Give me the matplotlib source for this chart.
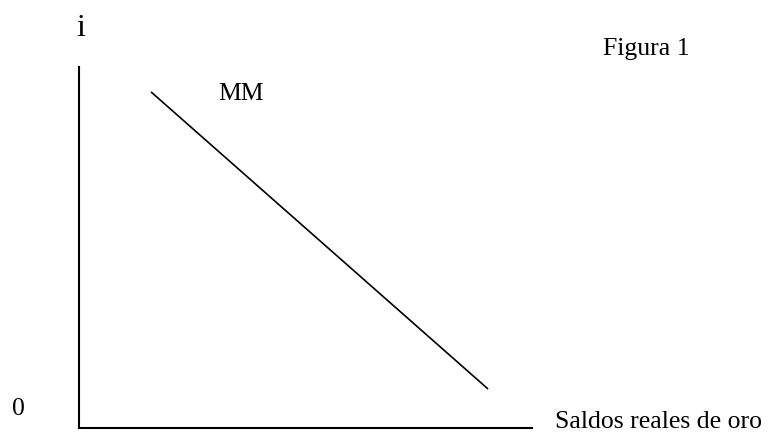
import matplotlib
matplotlib.use("Agg")
import matplotlib.pyplot as plt

# curva MM (unidades arbitrarias, ejes 0..10)
mm_x = [1.59, 9.03]
mm_y = [9.31, 1.08]

x_label = "Saldos reales de oro"
y_label = "i"
curve_label = "MM"
title = "Figura 1"
origin_label = "0"

W, H = 772, 438
plt.rcParams['font.family'] = ['Liberation Serif', 'DejaVu Serif']

fig = plt.figure(figsize=(W / 100, H / 100), dpi=100)
ax = fig.add_axes([79 / W, 1 - 428 / H, (532 - 79) / W, (428 - 67) / H])
ax.plot(mm_x, mm_y, color='black', lw=1.2, solid_capstyle='butt')
ax.set_xlim(0, 10)
ax.set_ylim(0, 10)
for s in ['top', 'right']:
    ax.spines[s].set_visible(False)
for s in ['left', 'bottom']:
    ax.spines[s].set_linewidth(1.5)
ax.set_xticks([])
ax.set_yticks([])

# textos en pixeles de la figura
def px(x, y):
    return x / W, 1 - y / H

fs = 18.5
fig.text(*px(76, 36), y_label, fontsize=23, va='baseline', ha='left')
fig.text(*px(603, 55), title, fontsize=fs, va='baseline', ha='left')
fig.text(*px(218, 100), curve_label, fontsize=fs, va='baseline', ha='left')
fig.text(*px(12, 415), origin_label, fontsize=fs, va='baseline', ha='left')
fig.text(*px(555, 428), x_label, fontsize=fs, va='baseline', ha='left')

fig.savefig("out.png", dpi=100)
